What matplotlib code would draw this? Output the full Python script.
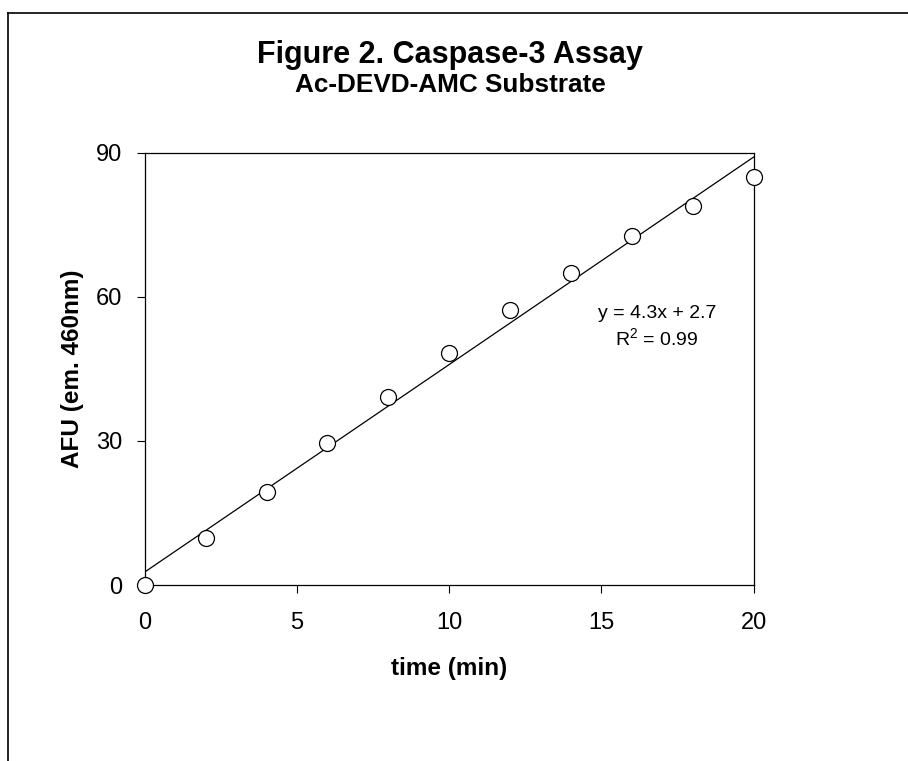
import numpy as np
import matplotlib
matplotlib.use("Agg")
import matplotlib.pyplot as plt
from matplotlib.lines import Line2D

time_min = [0, 2, 4, 6, 8, 10, 12, 14, 16, 18, 20]
afu = [0.0, 9.7, 19.4, 29.5, 39.2, 48.3, 57.3, 65.0, 72.6, 78.9, 85.0]
xticks = [0, 5, 10, 15, 20]
yticks = [0, 30, 60, 90]
title = "Figure 2. Caspase-3 Assay"
subtitle = "Ac-DEVD-AMC Substrate"
eq_text = "y = 4.3x + 2.7"
r2_text = "R$^2$ = 0.99"

plt.rcParams['font.family'] = ['Liberation Sans', 'DejaVu Sans']
plt.rcParams['mathtext.fontset'] = 'custom'
plt.rcParams['mathtext.rm'] = 'Liberation Sans'

W, H = 908, 761
fig = plt.figure(figsize=(W / 100, H / 100), dpi=100)
ax_l, ax_r, ax_t, ax_b = 144.7, 753.7, 152.7, 585
ax = fig.add_axes([ax_l / W, 1 - ax_b / H, (ax_r - ax_l) / W, (ax_b - ax_t) / H])

slope, intercept = np.polyfit(time_min, afu, 1)
xs = np.array([0, 20])
ax.plot(xs, slope * xs + intercept, color='black', lw=0.9, zorder=2)
ax.plot(time_min, afu, 'o', ms=11.5, mfc='white', mec='black', mew=0.9, zorder=3, clip_on=False)

ax.set_xlim(0, 20)
ax.set_ylim(0, 90)
ax.set_xticks(xticks)
ax.set_yticks(yticks)
ax.tick_params(direction='out', length=6, width=0.8, labelsize=17)
ax.tick_params(axis='x', pad=13.3)
ax.tick_params(axis='y', pad=10)
for s in ax.spines.values():
    s.set_linewidth(0.9)

ax.set_xlabel("time (min)", fontsize=17.5, fontweight='bold', va='center')
ax.set_ylabel("AFU (em. 460nm)", fontsize=17.5, fontweight='bold', va='center')
ax.xaxis.set_label_coords(0.5, -(668 - ax_b) / (ax_b - ax_t))
ax.yaxis.set_label_coords(-(ax_l - 72) / (ax_r - ax_l), 0.5)

fig.text(450 / W, 1 - 55 / H, title, ha='center', va='center', fontsize=22, fontweight='bold')
fig.text(450 / W, 1 - 85 / H, subtitle, ha='center', va='center', fontsize=18.8, fontweight='bold')

ax.text(657 / W, 1 - 314 / H, eq_text, transform=fig.transFigure, ha='center', va='center', fontsize=14)
ax.text(657 / W, 1 - 339 / H, r2_text, transform=fig.transFigure, ha='center', va='center', fontsize=14)

fig.add_artist(Line2D([8 / W, 1.0], [1 - 13 / H, 1 - 13 / H], transform=fig.transFigure, color='black', lw=1.2))
fig.add_artist(Line2D([8 / W, 8 / W], [1 - 13 / H, 0.0], transform=fig.transFigure, color='black', lw=1.2))

fig.savefig("out.png", dpi=100)
